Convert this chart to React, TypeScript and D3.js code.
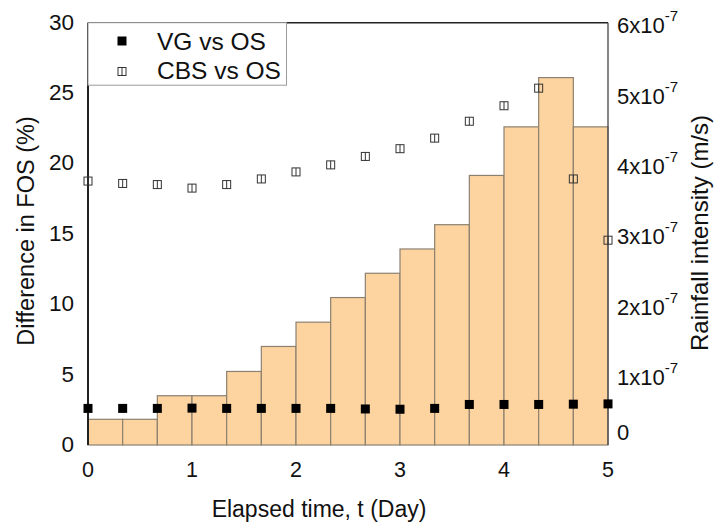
import React from 'react';
import * as d3 from 'd3';

// elapsed time (day) of each sample / bar edge
const times = [0, 1 / 3, 2 / 3, 1, 4 / 3, 5 / 3, 2, 7 / 3, 8 / 3, 3, 10 / 3, 11 / 3, 4, 13 / 3, 14 / 3, 5];
// difference in FOS (%)
const vgVsOs = [2.6, 2.6, 2.6, 2.62, 2.6, 2.6, 2.6, 2.6, 2.56, 2.54, 2.6, 2.88, 2.88, 2.88, 2.9, 2.92];
const cbsVsOs = [18.75, 18.58, 18.5, 18.25, 18.5, 18.9, 19.4, 19.9, 20.5, 21.05, 21.8, 23.0, 24.1, 25.35, 18.9, 14.55];
// rainfall intensity (m/s), one per interval of 1/3 day
const rainfall = [
  0.365e-7, 0.365e-7, 0.70e-7, 0.70e-7, 1.045e-7, 1.40e-7, 1.745e-7, 2.095e-7,
  2.44e-7, 2.785e-7, 3.13e-7, 3.83e-7, 4.52e-7, 5.22e-7, 4.52e-7,
];
const xTicks = [0, 1, 2, 3, 4, 5];
const leftTicks = [0, 5, 10, 15, 20, 25, 30];
const rightTicks = [0, 1, 2, 3, 4, 5, 6];

const W = 715;
const H = 523;
const M = { top: 22.7, right: 107, bottom: 78, left: 88 };
const FONT = '"Liberation Sans", Arial, sans-serif';

export default function App() {
  const x = d3.scaleLinear().domain([0, 5]).range([M.left, W - M.right]);
  const yL = d3.scaleLinear().domain([0, 30]).range([H - M.bottom, M.top]);
  const yR = d3.scaleLinear().domain([0, 6e-7]).range([H - M.bottom, M.top]);
  const x0 = x(0), x1 = x(5), yTop = yL(30), yBot = yL(0);
  const s = 9;

  return (
    <svg width={W} height={H} style={{ position: 'absolute', left: 0, top: 0 }} fontFamily={FONT}>
      <rect width={W} height={H} fill="#fff" />
      {/* rainfall bars */}
      {rainfall.map((r, i) => (
        <rect
          key={i}
          x={x(times[i])}
          y={yR(r)}
          width={x(times[i + 1]) - x(times[i])}
          height={yR(0) - yR(r)}
          fill="#fdd4a0"
          stroke="#8c8070"
          strokeWidth={1.2}
        />
      ))}
      {/* frame */}
      <line x1={x0} x2={x1} y1={yTop} y2={yTop} stroke="#222" strokeWidth={1.6} />
      <line x1={x1} x2={x1} y1={yTop} y2={yBot} stroke="#444" strokeWidth={1.3} />
      <line x1={x0} x2={x0} y1={yTop} y2={yBot} stroke="#222" strokeWidth={2} />

      {/* legend */}
      <rect x={x0} y={yTop} width={198.5} height={62.5} fill="#fff" stroke="#9a9a9a" strokeWidth={1} />
      <rect x={122 - 4.5} y={41 - 4.5} width={s} height={s} fill="#000" />
      <text x={157} y={49.5} fontSize={24.5} fill="#111">VG vs OS</text>
      <rect x={122 - 4} y={71.5 - 4} width={8} height={8} fill="#fff" stroke="#333" strokeWidth={1} />
      <line x1={122} x2={122} y1={71.5 - 4} y2={71.5 + 4} stroke="#333" strokeWidth={1} />
      <text x={157} y={79} fontSize={24.5} fill="#111">CBS vs OS</text>

      {/* series markers */}
      {cbsVsOs.map((v, i) => (
        <g key={'c' + i}>
          <rect x={x(times[i]) - 4} y={yL(v) - 4} width={8} height={8} fill="none" stroke="#333" strokeWidth={1} />
          <line x1={x(times[i])} x2={x(times[i])} y1={yL(v) - 4} y2={yL(v) + 4} stroke="#333" strokeWidth={1} />
        </g>
      ))}
      {vgVsOs.map((v, i) => (
        <rect key={'v' + i} x={x(times[i]) - s / 2} y={yL(v) - s / 2} width={s} height={s} fill="#000" />
      ))}

      {/* left ticks */}
      {leftTicks.map((t) => (
        <text key={'l' + t} x={74} y={yL(t) + 7} fontSize={22.5} textAnchor="end" fill="#111">{t}</text>
      ))}
      {/* right ticks */}
      {rightTicks.map((t) => (
        <text key={'r' + t} x={617} y={t === 0 ? 440 : yR(t * 1e-7) + 10.5} fontSize={22} fill="#111">
          {t === 0 ? '0' : (
            <>
              {t}x10<tspan dy={-12} fontSize={15}>-7</tspan>
            </>
          )}
        </text>
      ))}
      {/* x ticks */}
      {xTicks.map((t) => (
        <text key={'x' + t} x={x(t)} y={477} fontSize={21.5} textAnchor="middle" fill="#111">{t}</text>
      ))}

      {/* axis titles */}
      <text x={319} y={516.5} fontSize={23} textAnchor="middle" fill="#111">Elapsed time, t (Day)</text>
      <text transform={`translate(34, 231) rotate(-90)`} fontSize={23.5} textAnchor="middle" fill="#111">
        Difference in FOS (%)
      </text>
      <text transform={`translate(708, 233) rotate(-90)`} fontSize={24} textAnchor="middle" fill="#111">
        Rainfall intensity (m/s)
      </text>
    </svg>
  );
}
